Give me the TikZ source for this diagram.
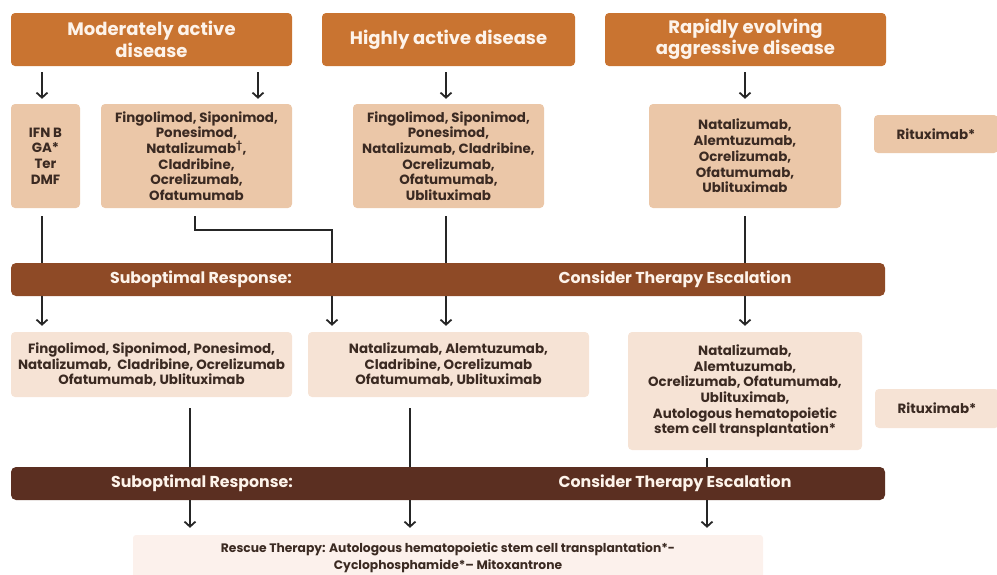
\documentclass[tikz,border=0pt]{standalone}
\usepackage{fontspec}
\setmainfont{Poppins}
\usetikzlibrary{arrows.meta}
\definecolor{hdr}{HTML}{C97431}
\definecolor{tan}{HTML}{EBC7A8}
\definecolor{light}{HTML}{F6E3D5}
\definecolor{barA}{HTML}{8E4A26}
\definecolor{barB}{HTML}{5B2F21}
\definecolor{rescue}{HTML}{FCF1EC}
\definecolor{ink}{HTML}{3B2A22}
\definecolor{htext}{HTML}{FDF3EA}
\tikzset{
  box/.style={rounded corners=4pt, inner sep=0pt, align=center, font=\bfseries\fontsize{13.4}{15.7}\selectfont, text=ink},
  hbox/.style={box, fill=hdr, text=htext, font=\bfseries\fontsize{18}{21.5}\selectfont},
  tbox/.style={box, fill=tan},
  lbox/.style={box, fill=light},
  bar/.style={rounded corners=5pt, inner sep=0pt, minimum width=874pt, minimum height=33pt},
  bartext/.style={text=htext, font=\bfseries\fontsize{15.8}{18}\selectfont, inner sep=0pt},
  conn/.style={line width=2pt, draw=black!85},
  arr/.style={conn, -{Straight Barb[length=5pt,width=11pt,line width=1.8pt]}}
}
\begin{document}
\begin{tikzpicture}[x=1pt,y=-1pt]
\useasboundingbox (0,0) rectangle (997,574);
% headers
\node[hbox, minimum width=281pt, minimum height=53pt] (h1) at (151.5,39.5) {Moderately active\\disease};
\node[hbox, minimum width=253pt, minimum height=53pt] (h2) at (448.5,39.5) {Highly active disease};
\node[hbox, minimum width=281pt, minimum height=53pt] (h3) at (745.5,39.5) {Rapidly evolving\\aggressive disease};
% row 1
\node[tbox, minimum width=69pt, minimum height=104pt] (ifn) at (45.5,156) {IFN B\\GA*\\Ter\\DMF};
\node[tbox, minimum width=191pt, minimum height=104pt] (fin) at (196.5,156) {Fingolimod, Siponimod,\\Ponesimod,\\Natalizumab\textsuperscript{†},\\Cladribine,\\Ocrelizumab,\\Ofatumumab};
\node[tbox, minimum width=191pt, minimum height=104pt] (hig) at (448.5,156) {Fingolimod, Siponimod,\\Ponesimod,\\Natalizumab, Cladribine,\\Ocrelizumab,\\Ofatumumab,\\Ublituximab};
\node[tbox, minimum width=192pt, minimum height=104pt] (rap) at (745,156) {Natalizumab,\\Alemtuzumab,\\Ocrelizumab,\\Ofatumumab,\\Ublituximab};
\node[tbox, minimum width=124pt, minimum height=38pt] (r1) at (936,134) {Rituximab*};
% bar 1
\node[bar, fill=barA] (b1) at (448,279.5) {};
\node[bartext] (b1l) at (201,279.5) {Suboptimal Response:};
\node[bartext] (b1r) at (675,279.5) {Consider Therapy Escalation};
% row 2
\node[lbox, minimum width=281pt, minimum height=65pt] (a2) at (151.5,364.5) {Fingolimod, Siponimod, Ponesimod,\\Natalizumab,\ \ Cladribine, Ocrelizumab\\Ofatumumab, Ublituximab};
\node[lbox, minimum width=281pt, minimum height=65pt] (b2) at (448.5,364.5) {Natalizumab, Alemtuzumab,\\Cladribine, Ocrelizumab\\Ofatumumab, Ublituximab};
\node[lbox, minimum width=234pt, minimum height=118pt] (c2) at (745,391) {Natalizumab,\\Alemtuzumab,\\Ocrelizumab, Ofatumumab,\\Ublituximab,\\Autologous hematopoietic\\stem cell transplantation*};
\node[lbox, minimum width=124pt, minimum height=39pt] (r2) at (937,408.5) {Rituximab*};
% bar 2
\node[bar, fill=barB] (b2bar) at (448,483.5) {};
\node[bartext] (b2l) at (202,483.5) {Suboptimal Response:};
\node[bartext] (b2r) at (675,483.5) {Consider Therapy Escalation};
% rescue
\node[box, fill=rescue, rounded corners=3pt, minimum width=630pt, minimum height=45pt, font=\bfseries\fontsize{12.3}{17}\selectfont] (res) at (448,557.5) {Rescue Therapy: Autologous hematopoietic stem cell transplantation*-\\Cyclophosphamide*-- Mitoxantrone};
% coordinates
\coordinate (fbend1) at (195,230);
\coordinate (fbend2) at (332,230);
% arrows from headers
\draw[arr] ([yshift=-6pt]h1.south -| 42,0) -- ([yshift=5pt]ifn.north -| 42,0);
\draw[arr] ([yshift=-6pt]h1.south -| 258,0) -- ([yshift=5pt]fin.north -| 258,0);
\draw[arr] ([yshift=-6pt]h2.south -| 446,0) -- ([yshift=5pt]hig.north -| 446,0);
\draw[arr] ([yshift=-6pt]h3.south -| 745,0) -- ([yshift=5pt]rap.north -| 745,0);
% row1 to bar1
\draw[conn] ([yshift=-8pt]ifn.south -| 42,0) -- (b1.north -| 42,0);
\draw[conn] ([yshift=-8pt]fin.south -| 195,0) -- (fbend1) -- (fbend2) -- (b1.north -| 332,0);
\draw[conn] ([yshift=-8pt]hig.south -| 446,0) -- (b1.north -| 446,0);
\draw[conn] ([yshift=-8pt]rap.south -| 745,0) -- (b1.north -| 745,0);
% bar1 to row 2
\draw[arr] (b1.south -| 42,0) -- ([yshift=6pt]a2.north -| 42,0);
\draw[arr] (b1.south -| 332,0) -- ([yshift=6pt]b2.north -| 332,0);
\draw[arr] (b1.south -| 446,0) -- ([yshift=6pt]b2.north -| 446,0);
\draw[arr] (b1.south -| 745,0) -- ([yshift=6pt]c2.north -| 745,0);
% row2 to bar2
\draw[conn] ([yshift=-11pt]a2.south -| 190,0) -- (b2bar.north -| 190,0);
\draw[conn] ([yshift=-11pt]b2.south -| 410,0) -- (b2bar.north -| 410,0);
\draw[conn] ([yshift=-8pt]c2.south -| 707,0) -- (b2bar.north -| 707,0);
% bar2 to rescue
\draw[arr] (b2bar.south -| 190,0) -- ([yshift=7pt]res.north -| 190,0);
\draw[arr] (b2bar.south -| 410,0) -- ([yshift=7pt]res.north -| 410,0);
\draw[arr] (b2bar.south -| 707,0) -- ([yshift=7pt]res.north -| 707,0);
\end{tikzpicture}
\end{document}
